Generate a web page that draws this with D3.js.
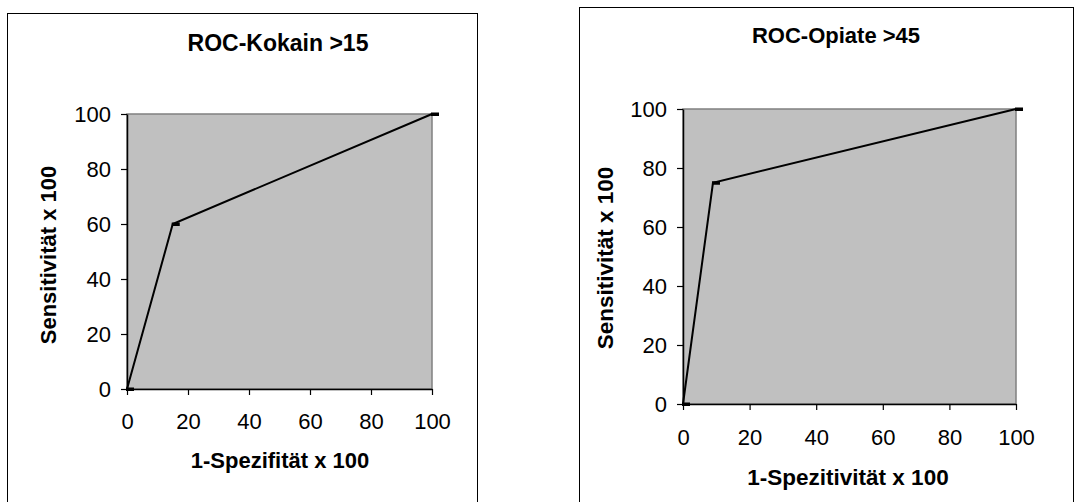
<!DOCTYPE html>
<html>
<head>
<meta charset="utf-8">
<script src="https://cdn.jsdelivr.net/npm/d3@7"></script>
<style>
  html, body { margin: 0; padding: 0; background: #fff; }
  svg { display: block; }
  text { font-family: Arial, "Liberation Sans", sans-serif; fill: #000; }
</style>
</head>
<body>
<svg id="chart" width="1082" height="502"></svg>
<script>
// ---- data ----
const kokainFPR = [0, 15, 100];
const kokainSens = [0, 60, 100];
const opiateFPR = [0, 9, 100];
const opiateSens = [0, 75, 100];
const xTickValues = [0, 20, 40, 60, 80, 100];
const yTickValues = [0, 20, 40, 60, 80, 100];
const titles = ["ROC-Kokain >15", "ROC-Opiate >45"];
const xLabels = ["1-Spezifität x 100", "1-Spezitivität x 100"];
const yLabel = "Sensitivität x 100";

// ---- layout ----
const charts = [
  { fx: 7.5, fy: 13.5, fw: 470, fh: 500, px0: 127, px1: 432, py0: 389, py1: 114,
    titleX: 278, titleY: 51, xlabX: 280, xlabY: 468, ylabX: 56, ylabY: 255,
    tickFont: 22, titleFont: 23, labFont: 22, xPad: 18, yPad: 10,
    xs: kokainFPR, ys: kokainSens, title: titles[0], xlab: xLabels[0] },
  { fx: 579.5, fy: 7.5, fw: 494, fh: 500, px0: 683, px1: 1016, py0: 404, py1: 109,
    titleX: 836, titleY: 43, xlabX: 848, xlabY: 485, ylabX: 613, ylabY: 258,
    tickFont: 22, titleFont: 22, labFont: 22.5, xPad: 19, yPad: 10,
    xs: opiateFPR, ys: opiateSens, title: titles[1], xlab: xLabels[1] }
];

const svg = d3.select("#chart");

charts.forEach(c => {
  const g = svg.append("g");
  g.append("rect").attr("x", c.fx).attr("y", c.fy).attr("width", c.fw).attr("height", c.fh)
    .attr("fill", "#fff").attr("stroke", "#000").attr("stroke-width", 1);

  const x = d3.scaleLinear().domain([0, 100]).range([c.px0, c.px1]);
  const y = d3.scaleLinear().domain([0, 100]).range([c.py0, c.py1]);

  // plot area
  g.append("rect").attr("x", x(0)).attr("y", y(100))
    .attr("width", x(100) - x(0)).attr("height", y(0) - y(100))
    .attr("fill", "#c0c0c0").attr("stroke", "#808080").attr("stroke-width", 1.5);

  // axes
  const xAxis = g.append("g").attr("transform", `translate(0,${y(0)})`)
    .call(d3.axisBottom(x).tickValues(xTickValues).tickSize(6).tickSizeOuter(0).tickPadding(c.xPad));
  const yAxis = g.append("g").attr("transform", `translate(${x(0)},0)`)
    .call(d3.axisLeft(y).tickValues(yTickValues).tickSize(6).tickSizeOuter(0).tickPadding(c.yPad));
  [xAxis, yAxis].forEach(a => {
    a.select(".domain").attr("stroke", "#000").attr("stroke-width", 1.5);
    a.selectAll(".tick line").attr("stroke", "#000").attr("stroke-width", 1.2);
    a.selectAll(".tick text").attr("font-size", c.tickFont)
      .attr("font-family", "Arial, 'Liberation Sans', sans-serif").attr("fill", "#000");
  });

  // line
  const pts = c.xs.map((v, i) => [v, c.ys[i]]);
  g.append("path").datum(pts)
    .attr("d", d3.line().x(d => x(d[0])).y(d => y(d[1])))
    .attr("fill", "none").attr("stroke", "#000").attr("stroke-width", 2);
  // dash markers
  g.selectAll(".mk").data(pts).enter().append("rect")
    .attr("x", d => x(d[0]) - 1).attr("y", d => y(d[1]) - 1.5)
    .attr("width", 8).attr("height", 3.5).attr("fill", "#000");

  // texts
  g.append("text").attr("x", c.titleX).attr("y", c.titleY).attr("text-anchor", "middle")
    .attr("font-weight", "bold").attr("font-size", c.titleFont).text(c.title);
  g.append("text").attr("x", c.xlabX).attr("y", c.xlabY).attr("text-anchor", "middle")
    .attr("font-weight", "bold").attr("font-size", c.labFont).text(c.xlab);
  g.append("text").attr("transform", `translate(${c.ylabX},${c.ylabY}) rotate(-90)`)
    .attr("text-anchor", "middle").attr("font-weight", "bold").attr("font-size", c.labFont).text(yLabel);
});
</script>
</body>
</html>
